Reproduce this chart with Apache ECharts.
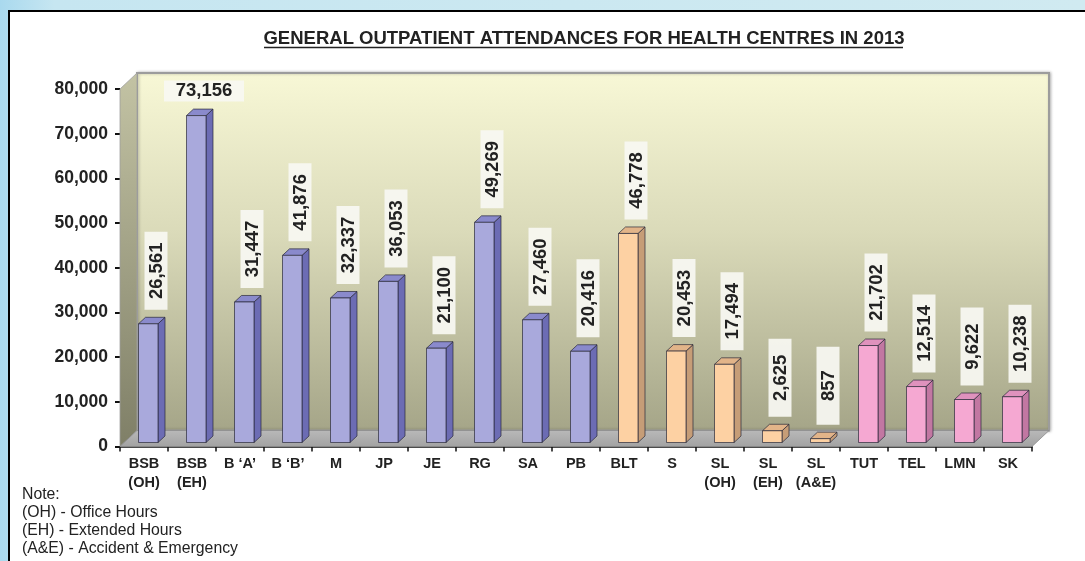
<!DOCTYPE html>
<html>
<head>
<meta charset="utf-8">
<script src="https://cdn.jsdelivr.net/npm/echarts@6/dist/echarts.min.js"></script>
<style>
  html, body { margin: 0; padding: 0; }
  #chart { width: 1085px; height: 561px; }
</style>
</head>
<body>
<div id="chart"></div>
<script>
/* ── data ── */
const categories = ['BSB\n(OH)', 'BSB\n(EH)', 'B \u2018A\u2019', 'B \u2018B\u2019', 'M', 'JP', 'JE', 'RG', 'SA', 'PB',
  'BLT', 'S', 'SL\n(OH)', 'SL\n(EH)', 'SL\n(A&E)', 'TUT', 'TEL', 'LMN', 'SK'];
const attendances = [26561, 73156, 31447, 41876, 32337, 36053, 21100, 49269, 27460, 20416,
  46778, 20453, 17494, 2625, 857, 21702, 12514, 9622, 10238];
// which colour group each centre belongs to
const groups = ['a', 'a', 'a', 'a', 'a', 'a', 'a', 'a', 'a', 'a',
  'b', 'b', 'b', 'b', 'b', 'c', 'c', 'c', 'c'];
const yTicks = [0, 10000, 20000, 30000, 40000, 50000, 60000, 70000, 80000];
const notes = ['Note:', '(OH) - Office Hours', '(EH) - Extended Hours', '(A&E) - Accident & Emergency'];
const title = 'GENERAL OUTPATIENT ATTENDANCES FOR HEALTH CENTRES IN 2013';

/* ── styles ── */
const FONT = '"Liberation Sans", Arial, Helvetica, sans-serif';
const palette = {
  a: { front: '#a9a9dc', side: '#6c6cb4', top: '#8a8acc' },
  b: { front: '#fdd1a3', side: '#c69d77', top: '#e2b489' },
  c: { front: '#f5a8d2', side: '#c277a2', top: '#df92bd' }
};
const DEPTH_X = 17, DEPTH_Y = -16;   // wall depth
const BAR_DX = 7, BAR_DY = -6.5;     // bar depth
const fmt = v => v.toLocaleString('en-US');

const chart = echarts.init(document.getElementById('chart'));

// back wall, side wall and floor
function renderWalls(params, api) {
  const cs = params.coordSys;
  const x0 = cs.x, y0 = cs.y, x1 = cs.x + cs.width, y1 = cs.y + cs.height;
  return {
    type: 'group',
    children: [
      {
        type: 'polygon',
        shape: { points: [[x0 + DEPTH_X, y0 + DEPTH_Y], [x1 + DEPTH_X, y0 + DEPTH_Y], [x1 + DEPTH_X, y1 + DEPTH_Y], [x0 + DEPTH_X, y1 + DEPTH_Y]] },
        style: {
          fill: new echarts.graphic.LinearGradient(0, 0, 0, 1, [
            { offset: 0, color: '#f8f8d6' },
            { offset: 0.45, color: '#dadab9' },
            { offset: 1, color: '#a5a588' }
          ]),
          stroke: '#9c9c9c', lineWidth: 2,
          shadowColor: 'rgba(0,0,0,0.25)', shadowBlur: 3, shadowOffsetX: 1, shadowOffsetY: 0
        }
      },
      {
        type: 'polygon',
        shape: { points: [[x0, y0], [x0 + DEPTH_X, y0 + DEPTH_Y], [x0 + DEPTH_X, y1 + DEPTH_Y], [x0, y1]] },
        style: {
          fill: new echarts.graphic.LinearGradient(0, 0, 0, 1, [
            { offset: 0, color: '#c3c3a4' },
            { offset: 1, color: '#7f7f67' }
          ]),
          stroke: '#a0a0a0', lineWidth: 0.8
        }
      },
      {
        type: 'polygon',
        shape: { points: [[x0, y1], [x1, y1], [x1 + DEPTH_X, y1 + DEPTH_Y], [x0 + DEPTH_X, y1 + DEPTH_Y]] },
        style: {
          fill: new echarts.graphic.LinearGradient(0, 0, 0, 1, [
            { offset: 0, color: '#b9b9b9' },
            { offset: 1, color: '#a2a2a2' }
          ]),
          stroke: '#8c8c8c', lineWidth: 0.8
        }
      }
    ]
  };
}

// 3d-looking bar plus its value label
function renderBar(params, api) {
  const idx = api.value(0);
  const val = api.value(1);
  const top = api.coord([idx, val]);
  const base = api.coord([idx, 0]);
  const c = palette[groups[idx]];
  const fl = top[0] - 5.5, fr = fl + 19.5;
  const ft = top[1] - 4, fb = base[1] - 4;
  const edge = { stroke: '#2a2a3a', lineWidth: 0.7 };
  const children = [
    { type: 'polygon', shape: { points: [[fr, ft], [fr + BAR_DX, ft + BAR_DY], [fr + BAR_DX, fb + BAR_DY], [fr, fb]] },
      style: Object.assign({ fill: c.side }, edge) },
    { type: 'polygon', shape: { points: [[fl, ft], [fr, ft], [fr + BAR_DX, ft + BAR_DY], [fl + BAR_DX, ft + BAR_DY]] },
      style: Object.assign({ fill: c.top }, edge) },
    { type: 'rect', shape: { x: fl, y: ft, width: fr - fl, height: fb - ft },
      style: Object.assign({ fill: c.front }, edge) }
  ];
  const lx = top[0] + 12;
  const boxBottom = ft - 14;
  const txt = fmt(val);
  const box = { fill: 'rgba(248,248,242,0.93)' };
  if (val > 60000) {
    // no room above for a vertical label
    children.push(
      { type: 'rect', shape: { x: lx - 40, y: boxBottom - 21, width: 80, height: 21 }, style: box },
      { type: 'text', x: lx, y: boxBottom - 10.5,
        style: { text: txt, font: 'bold 18.5px ' + FONT, fill: '#222', align: 'center', verticalAlign: 'middle' } }
    );
  } else {
    children.push(
      { type: 'rect', shape: { x: lx - 11.5, y: boxBottom - 78, width: 23, height: 78 }, style: box },
      { type: 'text', x: lx + 0.5, y: boxBottom - 39, rotation: Math.PI / 2,
        style: { text: txt, font: 'bold 18.5px ' + FONT, fill: '#222', align: 'center', verticalAlign: 'middle' } }
    );
  }
  return { type: 'group', children };
}

chart.setOption({
  backgroundColor: new echarts.graphic.LinearGradient(0, 0, 1, 0, [
    { offset: 0, color: '#a9d9ee' },
    { offset: 0.05, color: '#c6e6f1' },
    { offset: 1, color: '#d0eaf1' }
  ]),
  animation: false,
  graphic: [
    { type: 'rect', z: -10, shape: { x: 9, y: 11, width: 1090, height: 560 },
      style: { fill: '#ffffff', stroke: '#000', lineWidth: 2 } },
    { type: 'text', x: 584, y: 39,
      style: { text: title, font: 'bold 18.5px ' + FONT, fill: '#222', align: 'center', verticalAlign: 'middle' } },
    { type: 'line', shape: { x1: 264, y1: 47.5, x2: 903, y2: 47.5 }, style: { stroke: '#222', lineWidth: 1.3 } },
    { type: 'text', x: 22, y: 486,
      style: { text: notes.join('\n'), font: '15.8px ' + FONT, fill: '#222', lineHeight: 18 } }
  ],
  grid: { left: 120, right: 53, top: 89, bottom: 114.5 },
  xAxis: {
    type: 'category',
    data: categories,
    axisLine: { lineStyle: { color: '#111', width: 1.5 } },
    axisTick: { show: true, length: 5, lineStyle: { color: '#111', width: 1.5 } },
    axisLabel: { interval: 0, margin: 8, color: '#222', fontFamily: FONT, fontWeight: 'bold', fontSize: 14.5, lineHeight: 19 },
    splitLine: { show: false }
  },
  yAxis: {
    type: 'value',
    min: yTicks[0], max: yTicks[yTicks.length - 1], interval: yTicks[1] - yTicks[0],
    axisLine: { show: false },
    axisTick: { show: true, length: 5, lineStyle: { color: '#111', width: 2 } },
    axisLabel: { margin: 12, color: '#222', fontFamily: FONT, fontWeight: 'bold', fontSize: 17.5, formatter: fmt },
    splitLine: { show: false }
  },
  series: [
    { type: 'custom', z: 1, data: [[0, 0]], renderItem: renderWalls, silent: true },
    { type: 'custom', z: 2, data: attendances.map((v, i) => [i, v]), encode: { x: 0, y: 1 },
      renderItem: renderBar, clip: false }
  ]
});
</script>
</body>
</html>
